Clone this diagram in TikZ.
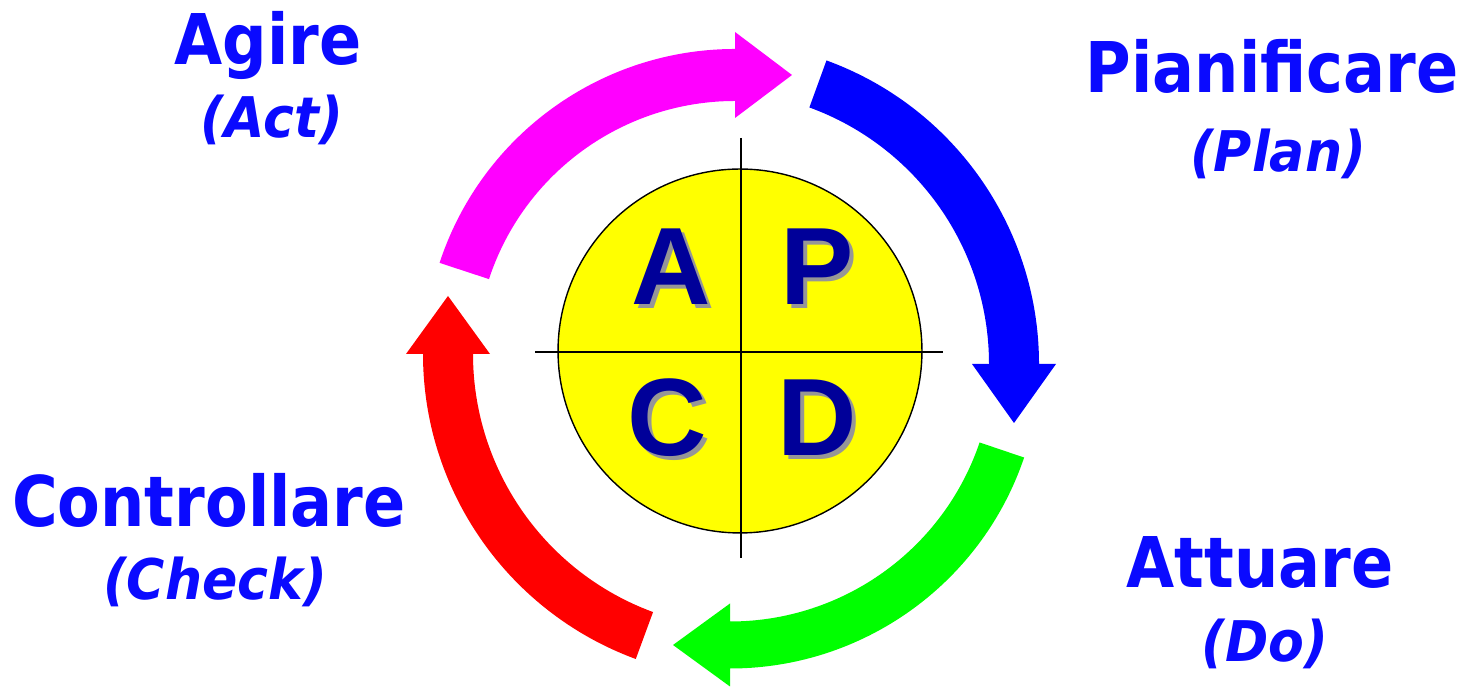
\documentclass[tikz,border=0pt]{standalone}
\usepackage{fontspec}
\setmainfont{DejaVu Sans}
\newfontfamily\letterfont{Liberation Sans}
\usetikzlibrary{calc}
\definecolor{navyletter}{RGB}{0,0,153}
\definecolor{labelblue}{RGB}{10,10,255}
\definecolor{shadowgray}{RGB}{150,150,150}
\definecolor{arrowblue}{RGB}{0,0,255}
\definecolor{arrowgreen}{RGB}{0,255,0}
\definecolor{arrowred}{RGB}{255,0,0}
\definecolor{arrowmagenta}{RGB}{255,0,255}
\definecolor{discyellow}{RGB}{255,255,0}
% #1 colour, #2 centre, #3 mid radius, #4 outer r, #5 inner r, #6 start angle, #7 end angle, #8 head half width, #9 head length
\newcommand\cyclearrow[9]{%
  \pgfmathsetmacro\headout{#3+#8}%
  \pgfmathsetmacro\headin{#3-#8}%
  \fill[#1] ($(#2)+(#6:#4)$) arc[start angle=#6,end angle=#7,radius=#4]
    -- ($(#2)+(#7:\headout)$)
    -- ($(#2)+(#7:#3)+(#7-90:#9)$)
    -- ($(#2)+(#7:\headin)$)
    -- ($(#2)+(#7:#5)$)
    arc[start angle=#7,end angle=#6,radius=#5] -- cycle;}
\newcommand\shadowed[1]{\makebox[0pt][l]{\hspace{2.4pt}\raisebox{-2.4pt}{\color{shadowgray}#1}}#1}
\tikzset{
  bigletter/.style={font=\letterfont\bfseries\fontsize{62.6pt}{62.6pt}\selectfont, text=navyletter, inner sep=0pt},
  mainlabel/.style={font=\bfseries\fontsize{39.8pt}{39.8pt}\selectfont, text=labelblue, inner sep=0pt, anchor=base, xscale=0.89, transform shape},
  sublabel/.style={font=\bfseries\itshape\fontsize{31.9pt}{31.9pt}\selectfont, text=labelblue, inner sep=0pt, anchor=base, xscale=0.93, transform shape},
  crossline/.style={line width=1.1pt, black},
}
\begin{document}
\begin{tikzpicture}[x=0.02cm,y=0.02cm]
\useasboundingbox (0,0) rectangle (1470,688);
% arrow centres
\coordinate (cblue) at (716,324);
\coordinate (cgreen) at (730,330);
\coordinate (cred) at (748,334);
\coordinate (cmag) at (735,328);
\cyclearrow{arrowblue}{cblue}{298}{323}{273}{70}{0}{42}{59}
\cyclearrow{arrowgreen}{cgreen}{287}{310.5}{263.5}{-18.7}{-90}{41.5}{57}
\cyclearrow{arrowred}{cred}{300}{325}{275}{249.8}{180}{42}{58}
\cyclearrow{arrowmagenta}{cmag}{285}{311}{259}{161.8}{90}{43}{57}
% central disc
\node[circle, draw=black, line width=0.8pt, fill=discyellow, minimum size=7.28cm, inner sep=0pt] (disc) at (740,337) {};
\coordinate (vtop) at (741,550);
\coordinate (vbot) at (741,130);
\coordinate (hleft) at (535,336);
\coordinate (hright) at (943,336);
\draw[crossline] (vtop) -- (vbot);
\draw[crossline] (hleft) -- (hright);
% letters
\node[bigletter] (aletter) at (671,419) {\shadowed{A}};
\node[bigletter] (pletter) at (817,419) {\shadowed{P}};
\node[bigletter] (cletter) at (667,268) {\shadowed{C}};
\node[bigletter] (dletter) at (817,268) {\shadowed{D}};
% labels
\node[mainlabel] (agire) at (268,623) {Agire};
\node[sublabel] (act) at (272,550) {(Act)};
\node[mainlabel] (pianificare) at (1272,595) {Pianificare};
\node[sublabel] (plan) at (1278,516) {(Plan)};
\node[mainlabel] (controllare) at (209,161) {Controllare};
\node[sublabel] (check) at (215,88) {(Check)};
\node[mainlabel] (attuare) at (1260,100) {Attuare};
\node[sublabel] (do) at (1265,26) {(Do)};
\end{tikzpicture}
\end{document}
